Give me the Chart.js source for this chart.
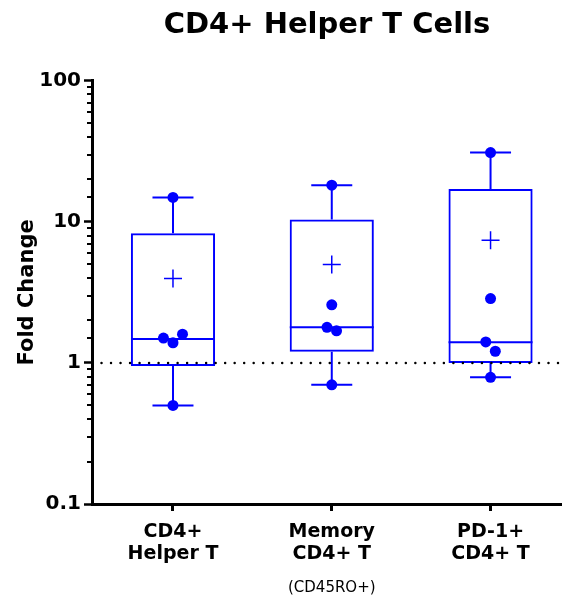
<!DOCTYPE html>
<html>
<head>
<meta charset="utf-8">
<script src="https://cdn.jsdelivr.net/npm/chart.js@4"></script>
<style>
  html, body { margin: 0; padding: 0; background: #fff; }
  #wrap { width: 562px; height: 608px; }
</style>
</head>
<body>
<div id="wrap"><canvas id="chart"></canvas></div>
<script>
// Data
const categories = [['CD4+', 'Helper T'], ['Memory', 'CD4+ T'], ['PD-1+', 'CD4+ T']];
const subLabels = ['', '(CD45RO+)', ''];
const points = [
    [14.9, 1.6, 1.5, 1.39, 0.5],
    [18.2, 2.58, 1.79, 1.69, 0.70],
    [31, 2.86, 1.41, 1.21, 0.79]
];
const q1 = [0.95, 1.2, 1.0];
const medians = [1.48, 1.79, 1.4];
const q3 = [8.3, 10.4, 17.1];
const means = [3.96, 4.98, 7.4];
const refLine = 1;

// Small horizontal spread so overlapping dots stay visible
const jitter = [
    [0, 0.06, -0.06, 0, 0],
    [0, 0, -0.03, 0.03, 0],
    [0, 0, -0.03, 0.03, 0]
];

const blue = 'rgb(0,0,255)';
const xMin = -0.51, xMax = 2.45;
const isDecade = v => Math.abs(Math.log10(v) - Math.round(Math.log10(v))) < 1e-9;

const stems = [];
points.forEach((p, i) => {
    stems.push({ x: i, y: Math.max(...p) }, { x: i, y: q3[i] }, { x: i, y: null });
    stems.push({ x: i, y: q1[i] }, { x: i, y: Math.min(...p) }, { x: i, y: null });
});
const caps = [];
points.forEach((p, i) => caps.push({ x: i, y: Math.max(...p) }, { x: i, y: Math.min(...p) }));
const dots = [];
points.forEach((p, i) => p.forEach((v, j) => dots.push({ x: i + jitter[i][j], y: v })));

const extras = {
    id: 'extras',
    afterDraw(chart) {
        const ctx = chart.ctx, y = chart.scales.y, x = chart.scales.x;
        ctx.save();
        // short minor ticks on the log axis
        ctx.strokeStyle = '#000';
        ctx.lineWidth = 2;
        y.ticks.forEach(t => {
            if (isDecade(t.value)) return;
            const py = Math.round(y.getPixelForValue(t.value));
            ctx.beginPath();
            ctx.moveTo(y.right - 5, py);
            ctx.lineTo(y.right, py);
            ctx.stroke();
        });
        // small note under a category label
        ctx.fillStyle = '#000';
        ctx.font = '15px "DejaVu Sans"';
        ctx.textAlign = 'center';
        ctx.textBaseline = 'middle';
        subLabels.forEach((s, i) => {
            if (s) ctx.fillText(s, x.getPixelForValue(i), x.top + 84);
        });
        ctx.restore();
    }
};

new Chart(document.getElementById('chart'), {
    type: 'scatter',
    data: {
        datasets: [
            {
                type: 'bar',
                data: categories.map((c, i) => ({ x: i, y: [q1[i], q3[i]] })),
                backgroundColor: 'rgba(0,0,0,0)',
                borderColor: blue,
                borderWidth: 2,
                borderSkipped: false,
                barPercentage: 0.53,
                categoryPercentage: 1,
                order: 6
            },
            {
                type: 'line',
                data: stems,
                borderColor: blue,
                borderWidth: 2,
                pointRadius: 0,
                spanGaps: false,
                order: 5
            },
            {
                data: caps,
                pointStyle: 'line',
                pointRadius: 20.5,
                borderColor: blue,
                borderWidth: 2,
                order: 5
            },
            {
                data: medians.map((m, i) => ({ x: i, y: m })),
                pointStyle: 'line',
                pointRadius: 42,
                borderColor: blue,
                borderWidth: 2,
                order: 5
            },
            {
                type: 'line',
                data: [{ x: xMin, y: refLine }, { x: xMax, y: refLine }],
                borderColor: '#000',
                borderWidth: 2.5,
                borderDash: [0.01, 9.5],
                borderCapStyle: 'round',
                pointRadius: 0,
                order: 4
            },
            {
                data: means.map((m, i) => ({ x: i, y: m })),
                pointStyle: 'cross',
                pointRadius: 9,
                borderColor: blue,
                borderWidth: 1.5,
                order: 3
            },
            {
                data: dots,
                pointStyle: 'circle',
                pointRadius: 5.5,
                backgroundColor: blue,
                borderWidth: 0,
                order: 1
            }
        ]
    },
    options: {
        responsive: true,
        maintainAspectRatio: false,
        animation: false,
        layout: { padding: 0, autoPadding: false },
        plugins: {
            legend: { display: false },
            tooltip: { enabled: false },
            title: {
                display: true,
                fullSize: false,
                text: 'CD4+ Helper T Cells',
                color: '#000',
                font: { family: 'DejaVu Sans', weight: 'bold', size: 29 },
                padding: { top: 8, bottom: 38 }
            }
        },
        scales: {
            x: {
                type: 'linear',
                min: xMin,
                max: xMax,
                offset: false,
                afterBuildTicks: s => { s.ticks = categories.map((c, i) => ({ value: i })); },
                afterFit: s => { s.height = 104; },
                border: { display: true, color: '#000', width: 3 },
                grid: { offset: false, drawOnChartArea: false, tickLength: 7, tickWidth: 3, tickColor: '#000' },
                ticks: {
                    autoSkip: false,
                    maxRotation: 0,
                    color: '#000',
                    padding: 10,
                    font: { family: 'DejaVu Sans', weight: 'bold', size: 19, lineHeight: 1.16 },
                    callback: v => categories[v]
                }
            },
            y: {
                type: 'logarithmic',
                min: 0.1,
                max: 100,
                afterFit: s => { s.width = 92; },
                border: { display: true, color: '#000', width: 3 },
                grid: {
                    drawOnChartArea: false,
                    tickLength: 8,
                    tickWidth: 2.5,
                    tickColor: c => (c.tick && isDecade(c.tick.value)) ? '#000' : 'rgba(0,0,0,0)'
                },
                ticks: {
                    autoSkip: false,
                    color: '#000',
                    padding: 3,
                    font: { family: 'DejaVu Sans', weight: 'bold', size: 20 },
                    callback: v => isDecade(v) ? String(v) : ''
                },
                title: {
                    display: true,
                    text: 'Fold Change',
                    color: '#000',
                    font: { family: 'DejaVu Sans', weight: 'bold', size: 21 },
                    padding: { top: 15, bottom: 0 }
                }
            }
        }
    },
    plugins: [extras]
});
</script>
</body>
</html>
